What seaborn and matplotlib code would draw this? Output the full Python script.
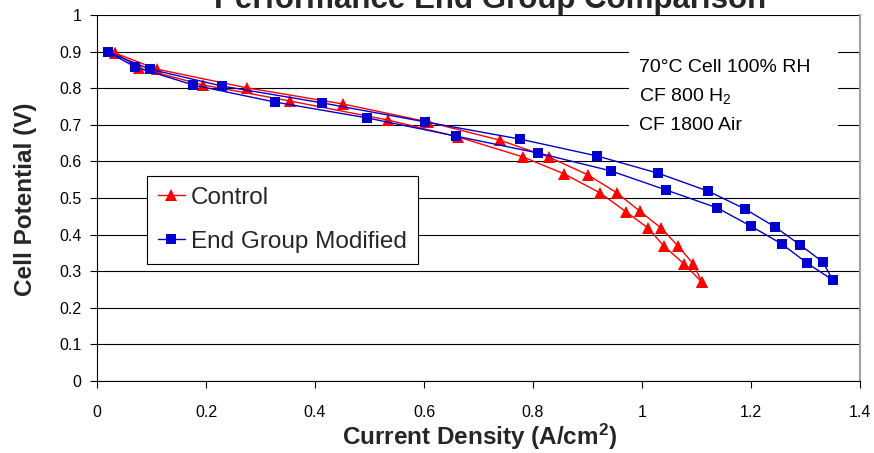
import matplotlib
matplotlib.use("Agg")
import matplotlib.pyplot as plt
import numpy as np
import pandas as pd
import seaborn as sns
from matplotlib.patches import Rectangle
from matplotlib.ticker import FuncFormatter

# Polarization curves, forward (descending voltage) and reverse sweeps
control_fwd_j = [0.033, 0.077, 0.194, 0.354, 0.534, 0.662, 0.782, 0.857, 0.923, 0.971, 1.011, 1.040, 1.077, 1.110]
control_fwd_v = [0.896, 0.855, 0.809, 0.765, 0.713, 0.667, 0.612, 0.566, 0.514, 0.462, 0.418, 0.369, 0.320, 0.270]
control_rev_j = [1.110, 1.094, 1.066, 1.035, 0.996, 0.954, 0.901, 0.829, 0.739, 0.607, 0.451, 0.275, 0.110, 0.033]
control_rev_v = [0.270, 0.320, 0.369, 0.418, 0.464, 0.514, 0.563, 0.612, 0.658, 0.708, 0.757, 0.801, 0.852, 0.896]

egm_fwd_j = [0.020, 0.070, 0.176, 0.327, 0.495, 0.659, 0.809, 0.943, 1.044, 1.138, 1.200, 1.257, 1.303, 1.350]
egm_fwd_v = [0.899, 0.858, 0.809, 0.762, 0.719, 0.669, 0.623, 0.574, 0.522, 0.473, 0.423, 0.374, 0.322, 0.276]
egm_rev_j = [1.350, 1.332, 1.290, 1.244, 1.189, 1.121, 1.029, 0.917, 0.776, 0.602, 0.413, 0.229, 0.097, 0.020]
egm_rev_v = [0.276, 0.325, 0.372, 0.421, 0.470, 0.519, 0.568, 0.615, 0.661, 0.708, 0.760, 0.806, 0.852, 0.899]

series_names = ["Control", "End Group Modified"]
conditions = ["70°C Cell 100% RH", "CF 800 H$_2$", "CF 1800 Air"]
x_ticks = [0, 0.2, 0.4, 0.6, 0.8, 1.0, 1.2, 1.4]
y_ticks = [0, 0.1, 0.2, 0.3, 0.4, 0.5, 0.6, 0.7, 0.8, 0.9, 1.0]

sns.set_theme(style="white")
plt.rcParams["font.family"] = ["Liberation Sans", "DejaVu Sans"]
plt.rcParams["mathtext.default"] = "regular"

W, H = 874, 453
fig = plt.figure(figsize=(W / 100, H / 100), dpi=100)
ax = fig.add_axes([97 / W, 1 - 381 / H, 763 / W, 366 / H])

def loop_frame(fj, fv, rj, rv):
    return pd.DataFrame({"J": list(fj) + list(rj), "V": list(fv) + list(rv)})

df_control = loop_frame(control_fwd_j, control_fwd_v, control_rev_j, control_rev_v)
df_egm = loop_frame(egm_fwd_j, egm_fwd_v, egm_rev_j, egm_rev_v)

red = "#FF0000"
blue = "#0000CC"
sns.lineplot(data=df_control, x="J", y="V", sort=False, estimator=None, ax=ax,
             color=red, linewidth=1.0, marker="^", markersize=9,
             markeredgewidth=0, label=series_names[0], zorder=3)
sns.lineplot(data=df_egm, x="J", y="V", sort=False, estimator=None, ax=ax,
             color=blue, linewidth=1.0, marker="s", markersize=7,
             markeredgewidth=0, label=series_names[1], zorder=4)

ax.set_xlim(0, 1.4)
ax.set_ylim(0, 1.0)
ax.set_xticks(x_ticks)
ax.set_yticks(y_ticks)
fmt = FuncFormatter(lambda v, p: f"{v:g}")
ax.xaxis.set_major_formatter(fmt)
ax.yaxis.set_major_formatter(fmt)
ax.tick_params(axis="both", which="major", bottom=True, left=True, direction="out",
               length=5, width=0.8, color="black", labelcolor="black", labelsize=11.5)
ax.tick_params(axis="x", pad=12)
ax.tick_params(axis="y", pad=6)

ax.set_axisbelow(True)
ax.yaxis.grid(True, color="black", linewidth=0.8)
ax.xaxis.grid(False)
for side in ["left", "bottom"]:
    ax.spines[side].set_color("black")
    ax.spines[side].set_linewidth(0.8)
ax.spines["top"].set_visible(False)
ax.spines["right"].set_color("#A0A0A0")
ax.spines["right"].set_linewidth(1.5)

ax.set_xlabel("")
ax.set_ylabel("")
fig.text(479.5 / W, 1 - 445 / H, "Current Density (A/cm$^2$)", ha="center",
         va="baseline", fontsize=17.5, fontweight="bold")
fig.text(25.5 / W, 1 - 199 / H, "Cell Potential (V)", ha="center", va="center",
         rotation=90, fontsize=17.5, fontweight="bold")

fig.text(490 / W, 1 - 8 / H, "Performance End Group Comparison", ha="center",
         va="baseline", fontsize=22.5, fontweight="bold")

# test conditions box
ax.add_patch(Rectangle((0.697, 0.658), 0.274, 0.274, transform=ax.transAxes,
                       facecolor="white", edgecolor="none", zorder=1))
for txt, base_px in zip(conditions, [72, 101, 130]):
    ax.text((639 - 97) / 763, (381 - base_px) / 366, txt, transform=ax.transAxes,
            ha="left", va="baseline", fontsize=14, color="black", zorder=5)

leg = ax.legend(loc="upper left", bbox_to_anchor=((147 - 97) / 763, (381 - 176) / 366),
                borderaxespad=0, fontsize=17.5, frameon=True, fancybox=False,
                framealpha=1, edgecolor="black", handlelength=1.1,
                handletextpad=0.25, borderpad=0.45, labelspacing=0.9)
leg.get_frame().set_linewidth(0.8)

fig.savefig("out.png", dpi=100)
